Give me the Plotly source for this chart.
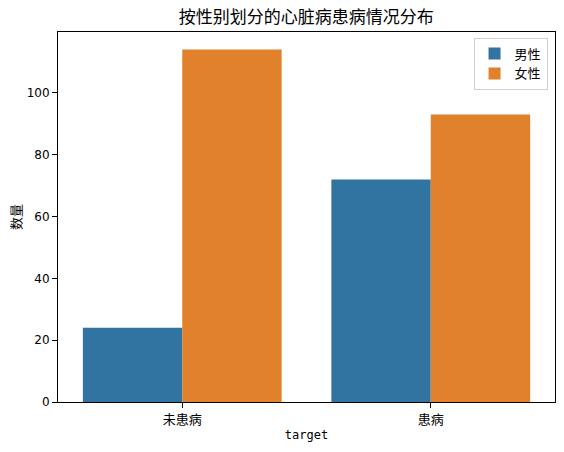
import plotly.graph_objects as go

categories = ["未患病", "患病"]
male_counts = [24, 72]
female_counts = [114, 93]
series_names = ["男性", "女性"]
y_ticks = [0, 20, 40, 60, 80, 100]

cjk = "Noto Sans CJK SC"

fig = go.Figure()
fig.add_trace(go.Bar(x=categories, y=male_counts, name=series_names[0],
                     marker=dict(color="#3274a1", line=dict(width=0))))
fig.add_trace(go.Bar(x=categories, y=female_counts, name=series_names[1],
                     marker=dict(color="#e1812c", line=dict(width=0))))

ymax = max(max(male_counts), max(female_counts)) * 1.05

fig.update_layout(
    width=564, height=452,
    margin=dict(l=58, r=9, t=32, b=50),
    paper_bgcolor="white", plot_bgcolor="white",
    barmode="group", bargap=0.2, bargroupgap=0,
    title=dict(text="按性别划分的心脏病患病情况分布", x=0.543, xanchor="center",
               y=1 - 17 / 452, yanchor="middle",
               font=dict(family=cjk, size=17, color="black")),
    legend=dict(x=0.985, y=0.985, xanchor="right", yanchor="top",
                bordercolor="#d0d0d0", borderwidth=1, bgcolor="rgba(255,255,255,0.8)",
                font=dict(family=cjk, size=13, color="black"),
                tracegroupgap=0),
    xaxis=dict(
        range=[-0.5, 1.5], showline=True, linecolor="black", linewidth=1, mirror=True,
        ticks="outside", ticklen=5, tickcolor="black",
        tickfont=dict(family=cjk, size=13, color="black"),
        title=dict(text="target", font=dict(family="DejaVu Sans Mono", size=12, color="black"),
                   standoff=4),
        showgrid=False,
    ),
    yaxis=dict(
        range=[0, ymax], showline=True, linecolor="black", linewidth=1, mirror=True,
        ticks="outside", ticklen=5, tickcolor="black", tickvals=y_ticks,
        tickfont=dict(family="DejaVu Sans", size=12, color="black"),
        title=dict(text="数量", font=dict(family=cjk, size=13, color="black"), standoff=2),
        showgrid=False, zeroline=False,
    ),
)

fig.write_html("out.html", config={"displayModeBar": False},
               post_script="document.body.style.margin='0';document.body.style.padding='0';")
